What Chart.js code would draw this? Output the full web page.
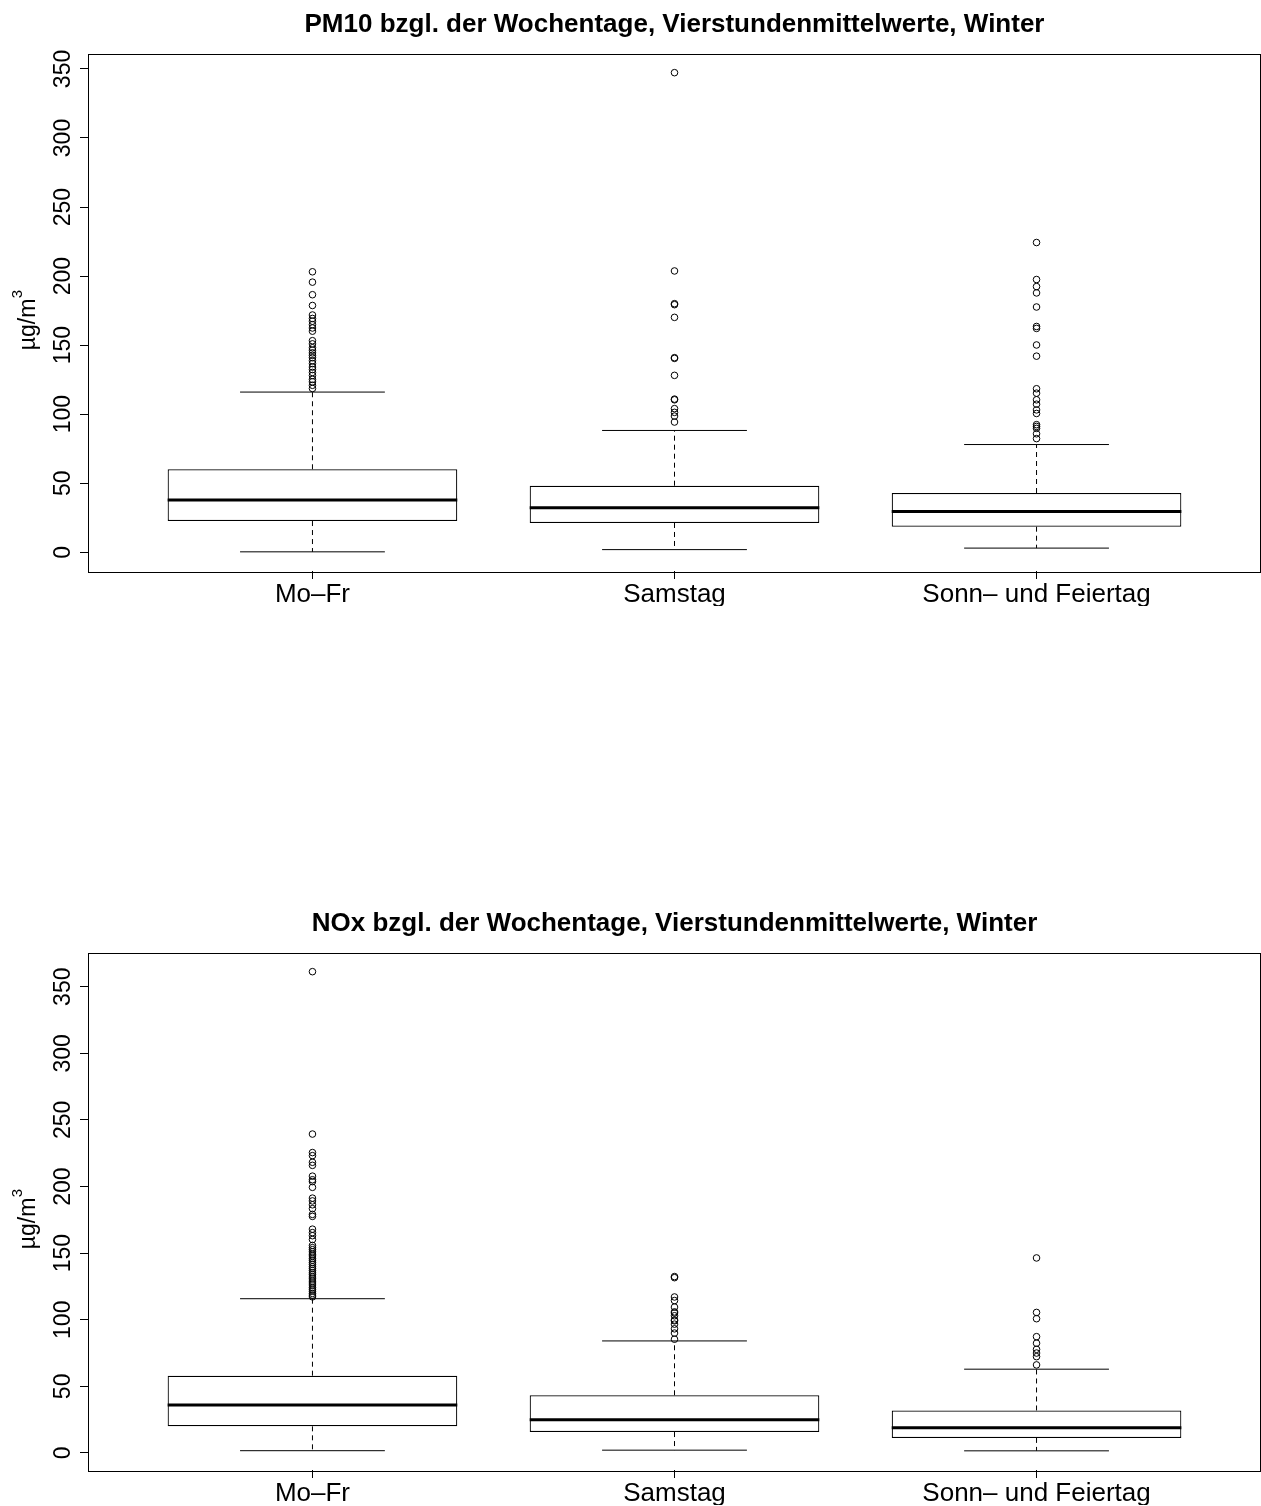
<!DOCTYPE html>
<html>
<head>
<meta charset="utf-8">
<title>PM10 und NOx bzgl. der Wochentage</title>
<script src="https://cdn.jsdelivr.net/npm/chart.js@4.4.1/dist/chart.umd.min.js"></script>
<style>
  html, body { margin: 0; padding: 0; background: #fff; overflow: hidden; }
  .panel { position: absolute; left: 0; width: 1261px; height: 606px; }
  #p1 { top: 0; }
  #p2 { top: 899px; }
</style>
</head>
<body>
<div class="panel" id="p1"><canvas id="pm10"></canvas></div>
<div class="panel" id="p2"><canvas id="nox"></canvas></div>
<script>
// categories and tick labels
const groups = ['Mo–Fr', 'Samstag', 'Sonn– und Feiertag'];
const yTicks = [0, 50, 100, 150, 200, 250, 300, 350];

// PM10 box statistics (whisker low, Q1, median, Q3, whisker high)
const pmLow    = [0.3, 1.9, 3.0];
const pmQ1     = [22.6, 21.2, 18.5];
const pmMedian = [37.8, 32.2, 29.5];
const pmQ3     = [60.1, 48.2, 42.9];
const pmHigh   = [116.0, 88.2, 78.0];
// PM10 outliers
const pmOutMoFr = [203.1, 195.6, 186.5, 178.7, 171.8, 169.3, 167.3, 164.8, 162.4, 160.1, 153.2, 150.9, 148.1, 146.3, 144.4, 142.6, 140.9, 138.7, 136.6, 134.1, 132.3, 130.2, 128.0, 125.2, 123.4, 120.9, 118.6];
const pmOutSa   = [347.3, 203.7, 180.0, 179.3, 170.1, 140.9, 140.4, 128.1, 110.9, 110.4, 104.0, 101.3, 98.6, 94.3];
const pmOutSo   = [224.3, 197.5, 192.4, 187.8, 177.6, 163.5, 162.1, 150.1, 142.0, 118.4, 115.2, 110.4, 107.2, 103.1, 100.5, 92.4, 91.1, 89.7, 85.8, 82.3];

// NOx box statistics
const noxLow    = [1.7, 2.1, 1.6];
const noxQ1     = [20.0, 15.7, 11.3];
const noxMedian = [36.0, 24.9, 18.9];
const noxQ3     = [58.0, 43.3, 31.9];
const noxHigh   = [115.8, 84.1, 62.9];
// NOx outliers
const noxOutMoFr = [361.3, 239.4, 225.5, 223.2, 218.2, 215.9, 207.8, 205.1, 203.7, 199.4, 191.3, 189.2, 186.3, 183.4, 179.1, 177.6, 168.0, 165.4, 163.1, 160.2, 155.8, 154.1, 152.6, 151.0, 149.2, 147.9, 146.1, 144.7, 143.0, 141.6, 139.8, 138.4, 136.9, 135.2, 133.8, 132.1, 130.7, 129.0, 127.6, 126.1, 124.3, 122.9, 121.4, 119.8, 118.5, 117.2];
const noxOutSa   = [132.4, 131.6, 117.1, 114.4, 109.5, 105.9, 105.1, 103.0, 99.8, 99.2, 96.7, 93.2, 90.0, 85.4];
const noxOutSo   = [146.4, 105.5, 100.8, 87.3, 82.4, 77.8, 75.0, 72.3, 66.1];

const FONT = "'Liberation Sans', Arial, Helvetica, sans-serif";
const BOX_HALF = 0.4, CAP_HALF = 0.2;

// R style frame, rotated y tick labels and y axis title
const rFrame = {
  id: 'rFrame',
  afterDraw(chart) {
    const { ctx, chartArea: a, scales: { y } } = chart;
    ctx.save();
    ctx.strokeStyle = '#000';
    ctx.lineWidth = 1;
    ctx.strokeRect(Math.round(a.left) + 0.5, Math.round(a.top) + 0.5,
      Math.round(a.right - a.left) - 1, Math.round(a.bottom - a.top));
    ctx.fillStyle = '#000';
    ctx.font = '23px ' + FONT;
    ctx.textAlign = 'center';
    ctx.textBaseline = 'alphabetic';
    y.ticks.forEach(t => {
      ctx.save();
      ctx.translate(a.left - 18, y.getPixelForValue(t.value));
      ctx.rotate(-Math.PI / 2);
      ctx.fillText(String(t.value), 0, 0);
      ctx.restore();
    });
    // µg/m³
    ctx.translate(a.left - 53, (a.top + a.bottom) / 2 + 38);
    ctx.rotate(-Math.PI / 2);
    ctx.textAlign = 'left';
    ctx.fillText('µg/m', 0, 0);
    const w = ctx.measureText('µg/m').width;
    ctx.font = '15px ' + FONT;
    ctx.fillText('3', w + 0.5, -13);
    ctx.restore();
  }
};

function hSegments(values, half) {
  return values.flatMap((v, i) => [
    { x: i + 1 - half, y: v }, { x: i + 1 + half, y: v }, { x: i + 1.5, y: null }
  ]);
}

function makeChart(id, title, low, q1, median, q3, high, outliers) {
  const all = low.concat(high, ...outliers);
  const lo = Math.min(...all), hi = Math.max(...all);
  const ext = (hi - lo) * 0.04;

  const stems = groups.flatMap((g, i) => [
    { x: i + 1, y: q3[i] }, { x: i + 1, y: high[i] }, { x: i + 1, y: null },
    { x: i + 1, y: q1[i] }, { x: i + 1, y: low[i] }, { x: i + 1, y: null }
  ]);
  const points = outliers.flatMap((vals, i) => vals.map(v => ({ x: i + 1, y: v })));

  return new Chart(document.getElementById(id), {
    type: 'bar',
    data: {
      datasets: [
        {
          type: 'line', label: 'Ausreißer', data: points, showLine: false,
          pointStyle: 'circle', pointRadius: 3.3, pointBorderWidth: 1,
          pointBorderColor: '#000', pointBackgroundColor: 'rgba(0,0,0,0)'
        },
        {
          type: 'line', label: 'Median', data: hSegments(median, BOX_HALF),
          borderColor: '#000', borderWidth: 3, pointRadius: 0, spanGaps: false, borderCapStyle: 'butt'
        },
        {
          type: 'line', label: 'Whisker', data: hSegments(low, CAP_HALF).concat(hSegments(high, CAP_HALF)),
          borderColor: '#000', borderWidth: 1, pointRadius: 0, spanGaps: false
        },
        {
          type: 'bar', label: 'Box',
          data: groups.map((g, i) => ({ x: i + 1, y: [q1[i], q3[i]] })),
          backgroundColor: '#fff', borderColor: '#000', borderWidth: 1.2,
          borderSkipped: false, barPercentage: 1, categoryPercentage: 0.8
        },
        {
          type: 'line', label: 'Stiel', data: stems,
          borderColor: '#000', borderWidth: 1, borderDash: [5, 4], pointRadius: 0, spanGaps: false
        }
      ]
    },
    options: {
      responsive: true,
      maintainAspectRatio: false,
      animation: false,
      events: [],
      layout: { padding: 0, autoPadding: false },
      plugins: {
        legend: { display: false },
        tooltip: { enabled: false },
        title: {
          display: true, text: title, color: '#000', fullSize: false,
          font: { family: FONT, size: 26, weight: 'bold', lineHeight: 1 },
          padding: { top: 12, bottom: 15.5 }
        }
      },
      scales: {
        x: {
          type: 'linear', min: 0.38, max: 3.62, offset: false,
          afterBuildTicks: s => { s.ticks = groups.map((g, i) => ({ value: i + 1 })); },
          afterFit: s => { s.height = 35; s.paddingLeft = 0; s.paddingRight = 0; },
          border: { display: false },
          grid: { offset: false, drawOnChartArea: false, drawTicks: true, tickLength: 8, color: '#000' },
          ticks: {
            color: '#000', font: { family: FONT, size: 26 }, padding: 0,
            autoSkip: false, maxRotation: 0, minRotation: 0,
            callback: v => groups[Math.round(v) - 1]
          }
        },
        y: {
          type: 'linear', min: lo - ext, max: hi + ext,
          afterBuildTicks: s => { s.ticks = yTicks.map(v => ({ value: v })); },
          afterFit: s => { s.width = 88; s.paddingTop = 0; s.paddingBottom = 0; },
          border: { display: false },
          grid: { drawOnChartArea: false, drawTicks: true, tickLength: 8, color: '#000' },
          ticks: { display: false }
        }
      }
    },
    plugins: [rFrame]
  });
}

makeChart('pm10', 'PM10 bzgl. der Wochentage, Vierstundenmittelwerte, Winter',
  pmLow, pmQ1, pmMedian, pmQ3, pmHigh, [pmOutMoFr, pmOutSa, pmOutSo]);
makeChart('nox', 'NOx bzgl. der Wochentage, Vierstundenmittelwerte, Winter',
  noxLow, noxQ1, noxMedian, noxQ3, noxHigh, [noxOutMoFr, noxOutSa, noxOutSo]);
</script>
</body>
</html>
